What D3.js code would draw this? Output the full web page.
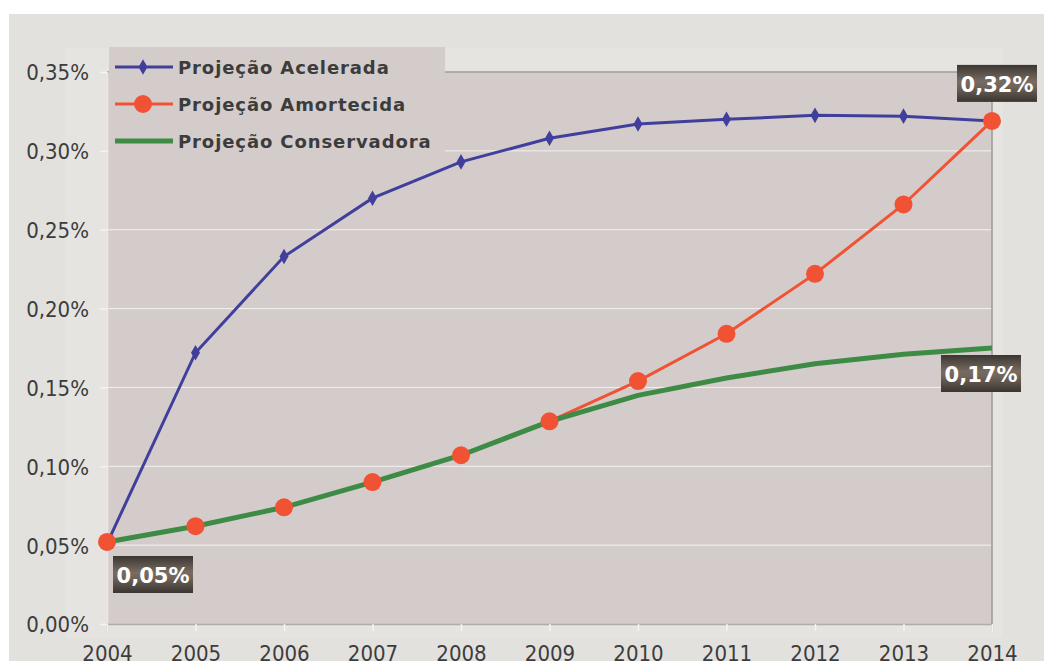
<!DOCTYPE html>
<html>
<head>
<meta charset="utf-8">
<script src="https://cdn.jsdelivr.net/npm/d3@7"></script>
<style>
  body { margin: 0; background: #fff; }
  svg { display: block; }
</style>
</head>
<body>
<svg id="chart"></svg>
<script>
const width = 1044, height = 661;

// data (percent)
const years = [2004, 2005, 2006, 2007, 2008, 2009, 2010, 2011, 2012, 2013, 2014];
const acelerada = [0.051, 0.172, 0.233, 0.270, 0.293, 0.308, 0.317, 0.320, 0.3225, 0.322, 0.319];
const amortecida = [0.052, 0.062, 0.074, 0.090, 0.107, 0.1285, 0.154, 0.184, 0.222, 0.266, 0.319];
const conservadora = [0.052, 0.062, 0.074, 0.090, 0.107, 0.1285, 0.145, 0.156, 0.165, 0.171, 0.175];
const yTicks = [0, 0.05, 0.10, 0.15, 0.20, 0.25, 0.30, 0.35];
const seriesNames = ["Projeção Acelerada", "Projeção Amortecida", "Projeção Conservadora"];
const callouts = [
  {text: "0,32%", year: 2014, value: 0.319},
  {text: "0,17%", year: 2014, value: 0.175},
  {text: "0,05%", year: 2004, value: 0.052}
];

const blue = "#40409c", red = "#f25234", green = "#3e8b46";
const fmt = v => v.toFixed(2).replace(".", ",") + "%";
const tickFont = "'DejaVu Sans Condensed', 'DejaVu Sans'";

const svg = d3.select('#chart').attr('width', width).attr('height', height);

// backgrounds
svg.append('rect').attr('x', 9).attr('y', 14).attr('width', width - 9).attr('height', height - 14).attr('fill', '#e2e1de');
svg.append('rect').attr('x', 65).attr('y', 48).attr('width', 938).attr('height', 590).attr('fill', '#e5e4e1');

const margin = {left: 107, right: 992, top: 72, bottom: 624};
const x = d3.scaleLinear().domain([2004, 2014]).range([margin.left, margin.right]);
const y = d3.scaleLinear().domain([0, 0.35]).range([margin.bottom, margin.top]);

const defs = svg.append('defs');
const grad = defs.append('linearGradient').attr('id', 'boxg').attr('x1', 0).attr('y1', 0).attr('x2', 0).attr('y2', 1);
grad.append('stop').attr('offset', '0%').attr('stop-color', '#3b3631');
grad.append('stop').attr('offset', '45%').attr('stop-color', '#786c62');
grad.append('stop').attr('offset', '60%').attr('stop-color', '#6e635a');
grad.append('stop').attr('offset', '100%').attr('stop-color', '#3a3530');

// plot area
svg.append('rect')
  .attr('x', margin.left).attr('y', margin.top)
  .attr('width', margin.right - margin.left).attr('height', margin.bottom - margin.top)
  .attr('fill', '#d4cccb');

// gridlines
svg.append('g').selectAll('line').data(yTicks.slice(1)).enter().append('line')
  .attr('x1', margin.left).attr('x2', margin.right)
  .attr('y1', d => y(d)).attr('y2', d => y(d))
  .attr('stroke', '#f3f1f0').attr('stroke-width', 1);

// borders: top and right gray
svg.append('line').attr('x1', margin.left).attr('x2', margin.right).attr('y1', margin.top).attr('y2', margin.top)
  .attr('stroke', '#9e9793').attr('stroke-width', 1.5);
svg.append('line').attr('x1', margin.right).attr('x2', margin.right).attr('y1', margin.top).attr('y2', margin.bottom)
  .attr('stroke', '#9e9793').attr('stroke-width', 1.5);

const yAxis = d3.axisLeft(y).tickValues(yTicks).tickFormat(fmt).tickSize(7).tickPadding(11);
const gy = svg.append('g').attr('transform', `translate(${margin.left},0)`).call(yAxis);
gy.select('.domain').attr('stroke', '#ece6e5').attr('stroke-width', 1.5);
gy.selectAll('.tick line').attr('stroke', '#f6f4f3').attr('stroke-width', 1.5);
gy.selectAll('text').attr('fill', '#3c3c3c').attr('dy', '0.36em')
  .style('font-family', tickFont).style('font-size', '22px');

const xAxis = d3.axisBottom(x).tickValues(years).tickFormat(d3.format('d')).tickSize(7).tickPadding(14);
const gx = svg.append('g').attr('transform', `translate(0,${margin.bottom})`).call(xAxis);
gx.select('.domain').attr('stroke', '#b3aba8').attr('stroke-width', 1.5);
gx.selectAll('.tick line').attr('stroke', '#f6f4f3').attr('stroke-width', 1.5);
gx.selectAll('text').attr('fill', '#3c3c3c').style('font-family', tickFont).style('font-size', '22px');

// lines
const line = vals => d3.line().x((d, i) => x(years[i])).y(d => y(d))(vals);

svg.append('path').attr('d', line(amortecida)).attr('fill', 'none').attr('stroke', red).attr('stroke-width', 3);
svg.append('path').attr('d', line(conservadora)).attr('fill', 'none').attr('stroke', green).attr('stroke-width', 5);
svg.append('path').attr('d', line(acelerada)).attr('fill', 'none').attr('stroke', blue).attr('stroke-width', 3);

svg.append('g').selectAll('path').data(acelerada).enter().append('path')
  .attr('d', d3.symbol().type(d3.symbolDiamond).size(70))
  .attr('transform', (d, i) => `translate(${x(years[i])},${y(d)})`)
  .attr('fill', blue);

svg.append('g').selectAll('circle').data(amortecida).enter().append('circle')
  .attr('cx', (d, i) => x(years[i])).attr('cy', d => y(d)).attr('r', 9)
  .attr('fill', red);

// legend
const lg = svg.append('g');
lg.append('rect').attr('x', 109).attr('y', 47).attr('width', 336).attr('height', 110).attr('fill', '#d4cccb');
const colors = [blue, red, green];
seriesNames.forEach((name, i) => {
  const ly = 67 + i * 37;
  lg.append('line').attr('x1', 115).attr('x2', 173).attr('y1', ly).attr('y2', ly)
    .attr('stroke', colors[i]).attr('stroke-width', i === 2 ? 5 : 3);
  if (i === 0) lg.append('path').attr('d', d3.symbol().type(d3.symbolDiamond).size(70)).attr('transform', `translate(143,${ly})`).attr('fill', blue);
  if (i === 1) lg.append('circle').attr('cx', 143).attr('cy', ly).attr('r', 9).attr('fill', red);
  lg.append('text').attr('x', 178).attr('y', ly + 7).text(name)
    .attr('fill', '#3c3c3c').style('font-family', 'DejaVu Sans').style('font-weight', 'bold')
    .style('font-size', '18px').style('letter-spacing', '0.9px');
});

// callout boxes
const boxPos = [
  {dx: -35, dy: -56},
  {dx: -51, dy: 7},
  {dx: 6, dy: 14}
];
callouts.forEach((c, i) => {
  const bx = x(c.year) + boxPos[i].dx, by = y(c.value) + boxPos[i].dy;
  svg.append('rect').attr('x', bx).attr('y', by).attr('width', 80).attr('height', 37).attr('fill', 'url(#boxg)');
  svg.append('text').attr('x', bx + 40).attr('y', by + 27).attr('text-anchor', 'middle').text(c.text)
    .attr('fill', '#fff').style('font-family', 'DejaVu Sans').style('font-weight', 'bold').style('font-size', '21px');
});
</script>
</body>
</html>
